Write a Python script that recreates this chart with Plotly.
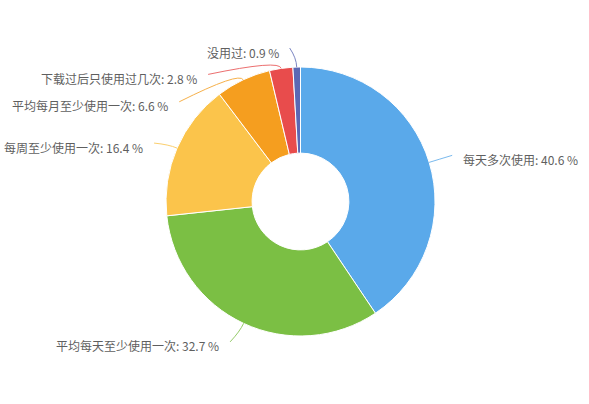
import math
import plotly.graph_objects as go

# ---- data ----
categories = ["每天多次使用", "平均每天至少使用一次", "每周至少使用一次",
              "平均每月至少使用一次", "下载过后只使用过几次", "没用过"]
values = [40.6, 32.7, 16.4, 6.6, 2.8, 0.9]

# ---- style / layout ----
colors = ["#5aa9ea", "#7bbf44", "#fbc44b", "#f59e1f", "#e84c4c", "#5b68b4"]
W, H = 589, 404
CX, CY, R = 300.5, 201.5, 134.5
HOLE = 0.36
# leader line end offsets (px) from slice edge point
label_offsets = [(23, -7), (-13.5, 18.5), (-23, -5), (-64, 22), (-73, 6), (-7, -19)]
CTRL_LEN = 9
TEXT_GAP = 9
TEXT_DY = 4

def px(x):
    return x / W

def py(y):
    return 1 - y / H

fig = go.Figure(go.Pie(
    labels=categories,
    values=values,
    sort=False,
    direction="clockwise",
    rotation=0,
    hole=HOLE,
    textinfo="none",
    marker=dict(colors=colors, line=dict(color="white", width=1)),
    domain=dict(x=[px(CX - R), px(CX + R)], y=[py(CY + R), py(CY - R)]),
    showlegend=False,
    hoverinfo="label+percent",
))

total = sum(values)
cum = 0.0
shapes = []
annotations = []
for cat, v, col, (dx, dy) in zip(categories, values, colors, label_offsets):
    mid = (cum + v / 2) / total * 2 * math.pi
    cum += v
    ux, uy = math.sin(mid), -math.cos(mid)
    ex, ey = CX + R * ux, CY + R * uy
    cx_, cy_ = ex + CTRL_LEN * ux, ey + CTRL_LEN * uy
    tx, ty = ex + dx, ey + dy
    path = "M {:.5f},{:.5f} Q {:.5f},{:.5f} {:.5f},{:.5f}".format(
        px(ex), py(ey), px(cx_), py(cy_), px(tx), py(ty))
    shapes.append(dict(type="path", xref="paper", yref="paper", path=path,
                       line=dict(color=col, width=1), opacity=0.8))
    right = dx > 0
    annotations.append(dict(
        xref="paper", yref="paper",
        x=px(tx + (TEXT_GAP if right else -TEXT_GAP)), y=py(ty + TEXT_DY),
        xanchor="left" if right else "right", yanchor="middle",
        text="{}: {} %".format(cat, v), showarrow=False,
        font=dict(size=12, color="#5f5f5f", family="Noto Sans CJK SC"),
    ))

fig.update_layout(
    width=W, height=H,
    margin=dict(l=0, r=0, t=0, b=0),
    paper_bgcolor="white", plot_bgcolor="white",
    shapes=shapes, annotations=annotations,
    font=dict(family="Noto Sans CJK SC"),
)

fig.write_html("out.html",
               config={"displayModeBar": False},
               post_script="document.body.style.margin='0';document.body.style.overflow='hidden';")
